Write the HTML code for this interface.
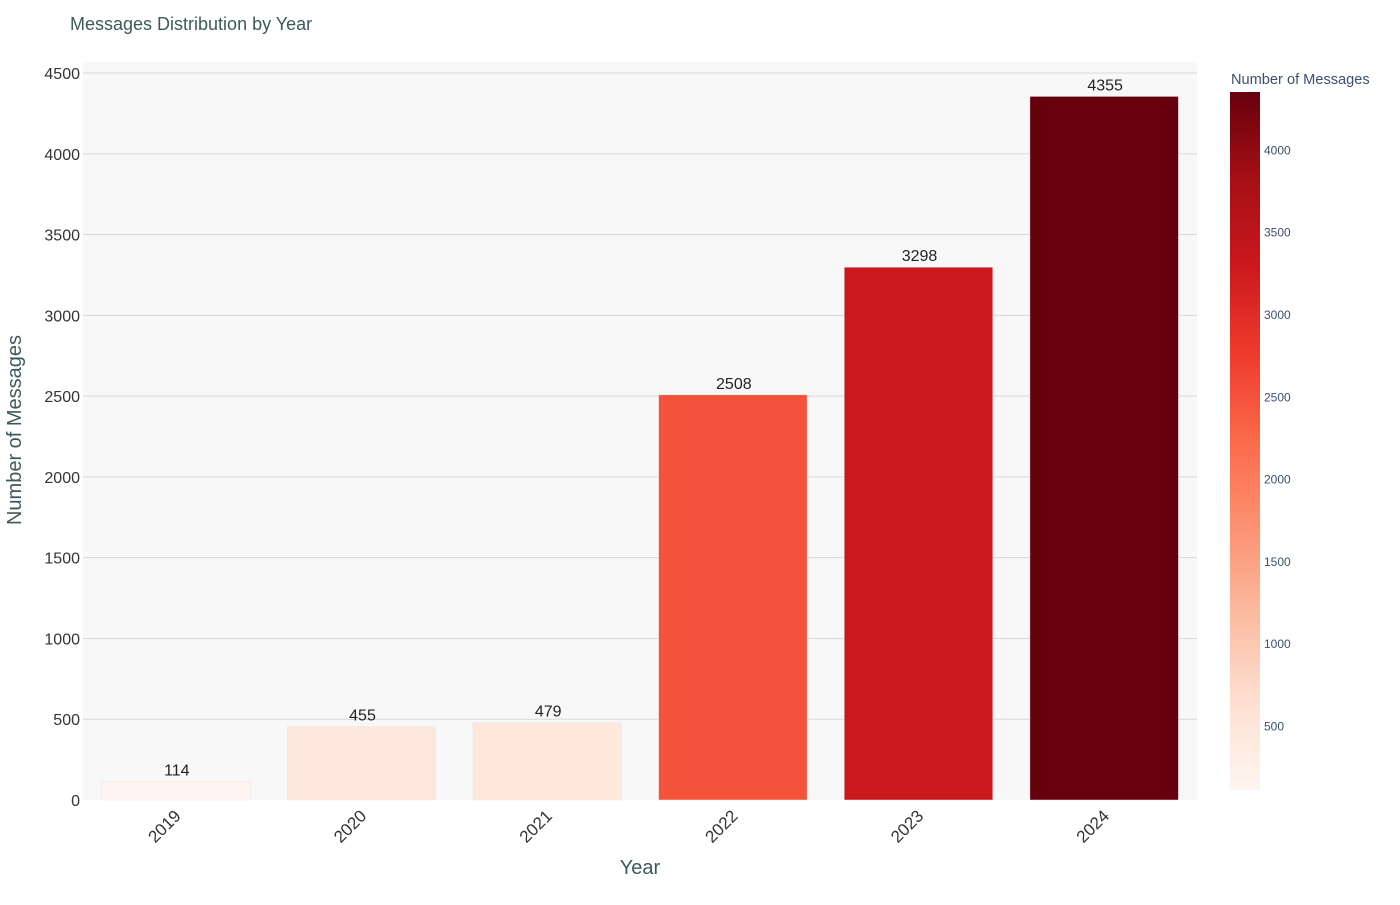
<!DOCTYPE html>
<html><head><meta charset="utf-8"><style>
body{margin:0;background:#fff;font-family:"Liberation Sans",Arial,sans-serif}
</style></head><body>
<svg id="chart" width="1400" height="900" xmlns="http://www.w3.org/2000/svg">
<defs><linearGradient id="cbg" x1="0" y1="1" x2="0" y2="0"></linearGradient></defs>
<rect x="83" y="62" width="1114" height="738" fill="#f8f8f8"/>
<g id="grid"></g><g id="bars"></g><g id="labels"></g><g id="cb"></g>
<text x="70" y="30" font-size="18" style="fill:#3d5a5a">Messages Distribution by Year</text>
<text x="640" y="874" font-size="20" text-anchor="middle" fill="#3d5a5a">Year</text>
<text transform="translate(21,430) rotate(-90)" font-size="20" text-anchor="middle" fill="#3d5a5a">Number of Messages</text>
<text x="1231" y="84" font-size="14.6" fill="#3d4f6f">Number of Messages</text>
</svg>
<script>
const categories=["2019","2020","2021","2022","2023","2024"];
const values=[114,455,479,2508,3298,4355];
const yTicks=[0,500,1000,1500,2000,2500,3000,3500,4000,4500];
const cbTicks=[500,1000,1500,2000,2500,3000,3500,4000];
const NS="http://www.w3.org/2000/svg";
const reds=[[255,245,240],[254,224,210],[252,187,161],[252,146,114],[251,106,74],[239,59,44],[203,24,29],[165,15,21],[103,0,13]];
const x0=83,x1=1197,y0=800,pxPer=727/4500;
const y=v=>y0-v*pxPer;
const band=(x1-x0)/categories.length;
const cmin=Math.min(...values),cmax=Math.max(...values);
function color(v){let t=(v-cmin)/(cmax-cmin)*8;let i=Math.min(7,Math.floor(t)),f=t-i;const a=reds[i],b=reds[i+1];return `rgb(${a.map((c,k)=>Math.round(c+(b[k]-c)*f)).join(',')})`;}
function mk(tag,attrs,parent,txt){const e=document.createElementNS(NS,tag);for(const k in attrs)e.setAttribute(k,attrs[k]);if(txt!=null)e.textContent=txt;parent.appendChild(e);return e;}
const G=document.getElementById('grid'),B=document.getElementById('bars'),L=document.getElementById('labels'),C=document.getElementById('cb');
yTicks.forEach(t=>{
 if(t>0){const l=mk('line',{x1:x0,x2:x1,y1:y(t),y2:y(t),stroke:'#d9d9d9','stroke-width':1},G);
 
 }
 const tx=mk('text',{x:x0-3,y:y(t)+6,'text-anchor':'end','font-size':16,fill:'#333'},L,t);
 
 
});
categories.forEach((c,i)=>{
 const cx=x0+band*(i+0.5),w=band*0.8;
 const r=mk('rect',{x:cx-w/2,y:y(values[i]),width:w,height:y0-y(values[i]),fill:color(values[i]),stroke:'#e8e8e8','stroke-width':0.5},B);
 
 
 const v=mk('text',{x:cx+1,y:y(values[i])-6,'text-anchor':'middle','font-size':16,fill:'#222'},L,values[i]);
 
 
 const t=mk('text',{transform:`translate(${cx+6},${y0+17}) rotate(-45)`,'text-anchor':'end','font-size':17,fill:'#333'},L,c);
 
 
});
const cbTop=92,cbBot=790,cbx=1230,cbw=30;
const grad=document.getElementById('cbg');
reds.forEach((c,i)=>mk('stop',{offset:(i/8*100)+'%','stop-color':`rgb(${c.join(',')})`},grad));
const cbr=mk('rect',{x:cbx,y:cbTop,width:cbw,height:cbBot-cbTop,fill:'url(#cbg)'},C);


const cy=v=>cbBot-(v-cmin)/(cmax-cmin)*(cbBot-cbTop);
cbTicks.forEach(t=>{
 const e=mk('text',{x:cbx+34,y:cy(t)+4,'font-size':12,fill:'#3d4f6f'},C,t);
 
 
});
</script>
</body></html>
